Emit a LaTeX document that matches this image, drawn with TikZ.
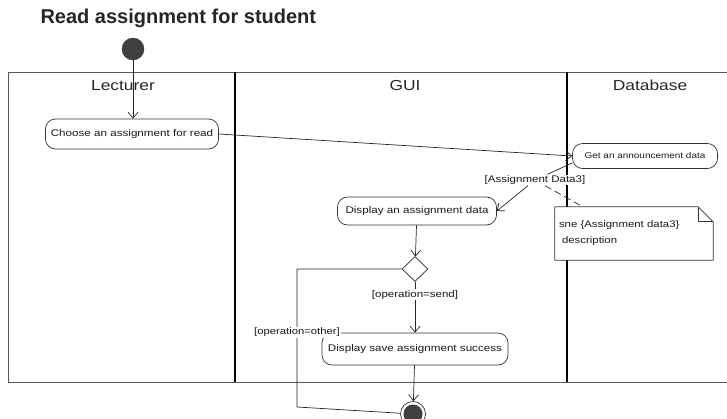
\documentclass[tikz,border=0pt]{standalone}
\usepackage{fontspec}
\setmainfont{Liberation Sans}
\newfontfamily\scanfont{Liberation Sans}[FakeStretch=1.2]
\usetikzlibrary{arrows.meta,shapes.geometric,calc,positioning}

\tikzset{
  action/.style={draw=black!80, line width=0.7pt, fill=white, rounded corners=10pt, inner sep=2pt,
    font=\scanfont\fontsize{9.7}{11}\selectfont, text=black!90},
  flow/.style={draw=black!85, line width=0.7pt, -{Straight Barb[length=6pt,width=10pt]}},
  guard/.style={fill=white, inner sep=1pt, font=\scanfont\fontsize{9.6}{11}\selectfont, text=black!90},
  lanehead/.style={anchor=base, font=\scanfont\fontsize{14.5}{16}\selectfont, text=black!85},
}

\begin{document}
\begin{tikzpicture}[x=1pt,y=-1pt,line join=round]
	\useasboundingbox (0,0) rectangle (727,418);
	% Title
	\node[anchor=base west, font=\bfseries\fontsize{20}{23}\selectfont, text=black!85] (title) at (37,23) {Read assignment for student};

	% Swimlanes
	\draw[black!65, line width=0.6pt] (8,382) -- (8,72) -- (727,72);
	\draw[black!65, line width=0.6pt] (8,382) -- (727,382);
	\draw[line width=1.2pt] (235,72) -- (235,382);
	\draw[line width=1.2pt] (567,72) -- (567,382);
	\node[lanehead] (lecturer) at (123,90) {Lecturer};
	\node[lanehead] (gui) at (405,90) {GUI};
	\node[lanehead] (database) at (650,90) {Database};

	% Start and final
	\node[circle, draw=black!80, fill=black!75, minimum size=22pt, inner sep=0] (start) at (133,49) {};
	\node[circle, draw=black!80, line width=0.7pt, fill=white, minimum size=25pt, inner sep=0] (final) at (413,414) {};
	\fill[black!75] (final) circle (9.5pt);

	% Actions
	\node[action, minimum width=173pt, minimum height=30pt] (choose) at (132,134) {Choose an assignment for read};
	\node[action, minimum width=145pt, minimum height=25pt, font=\scanfont\fontsize{8.3}{10}\selectfont] (get) at (645,156) {Get an announcement data};
	\node[action, minimum width=159pt, minimum height=28pt] (display) at (417,211) {Display an assignment data};
	\node[diamond, draw=black!85, line width=0.7pt, fill=white, minimum width=26pt, minimum height=25pt, inner sep=0] (decision) at (415,269) {};
	\node[action, minimum width=186pt, minimum height=32pt] (save) at (415,349) {Display save assignment success};

	% Note
	\node[fill=white, minimum width=158pt, minimum height=53pt, text width=150pt, align=left,
	  font=\scanfont\fontsize{9.5}{16}\selectfont, text=black!90] (note) at (634,233.5)
	  {sne \{Assignment data3\}\\\hspace{3pt}description};
	\draw[black!80, line width=0.7pt] (note.north west) -- ($(note.north east)+(-15,0)$) -- ($(note.north east)+(0,15)$)
	  -- (note.south east) -- (note.south west) -- cycle;
	\draw[black!80, line width=0.7pt] ($(note.north east)+(-15,0)$) -- ($(note.north east)+(-15,15)$) -- ($(note.north east)+(0,15)$);

	% Flows
	\draw[flow] (start) -- (start |- choose.north);
	\draw[flow] (choose.east) -- (get.west);
	\node[guard] (objlbl) at (535,180) {[Assignment Data3]};
	\draw[black!85, line width=0.7pt] ($(get.west)+(0,7)$) -- (objlbl);
	\draw[flow] (objlbl) -- (display.east);
	\draw[black!85, line width=0.7pt, dash pattern=on 7pt off 4pt] ($(objlbl.south)+(10,0)$) -- ($(note.north west)+(28,0)$);
	\draw[flow] (display) -- (decision);
	\draw[flow] (decision) -- node[guard, pos=0.25] (sendlbl) {[operation=send]} (save);
	\draw[flow] (save) -- (final);

	% Other branch
	\coordinate (otherturn) at (297,269);
	\coordinate (otherdown) at (297,407);
	\draw[black!85, line width=0.7pt] (decision.west) -- (otherturn) -- node[guard, pos=0.46, font=\scanfont\fontsize{9.4}{11}\selectfont] (otherlbl) {[operation=other]} (otherdown) -- (final);
\end{tikzpicture}
\end{document}
